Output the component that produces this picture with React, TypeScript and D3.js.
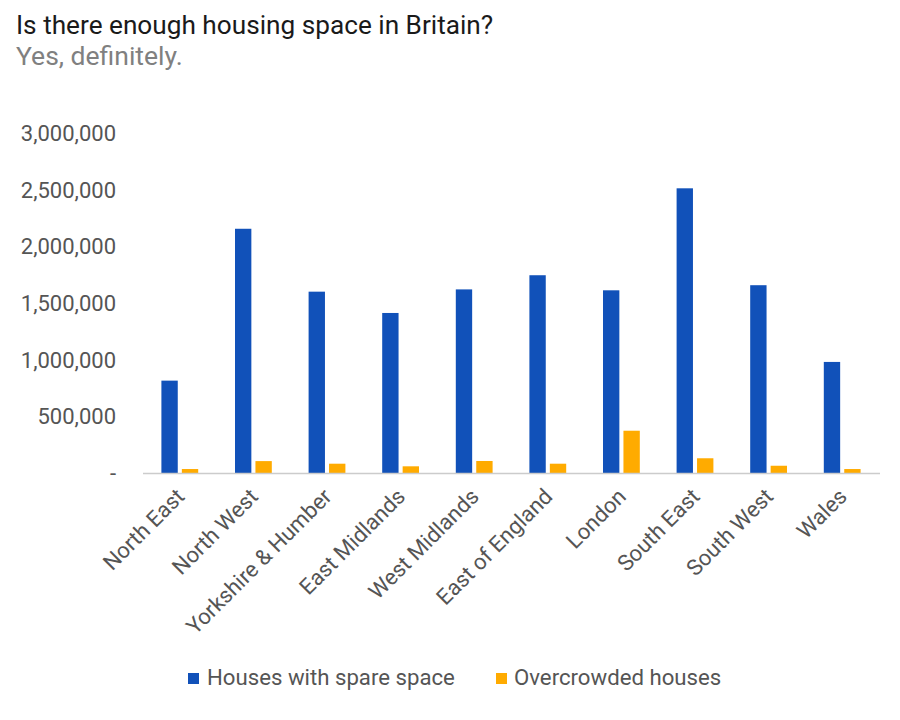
import * as React from "react";
import * as d3 from "d3";

const regions = ["North East", "North West", "Yorkshire & Humber", "East Midlands", "West Midlands", "East of England", "London", "South East", "South West", "Wales"];
const spareSpace = [815000, 2155000, 1600000, 1412000, 1620000, 1745000, 1612000, 2512000, 1657000, 980000];
const overcrowded = [35000, 105000, 82000, 59000, 106000, 82000, 373000, 130000, 64000, 35000];
const seriesNames = ["Houses with spare space", "Overcrowded houses"];
const yTicks = [0, 500000, 1000000, 1500000, 2000000, 2500000, 3000000];

const colors = ["#1151b9", "#ffab00"];
const font = "Roboto, 'Noto Sans', sans-serif";

export default function App() {
    const width = 900;
    const height = 720;
    const left = 143;
    const right = 879;
    const top = 133;
    const bottom = 473;

    const x0 = d3.scaleBand<string>().domain(regions).range([left, right]).paddingInner(0.5).paddingOuter(0.25);
    const x1 = d3.scaleBand<string>().domain(seriesNames).range([0, x0.bandwidth()]).paddingInner(0.2);
    const y = d3.scaleLinear().domain([0, 3000000]).range([bottom, top]);

    const fmt = (d: number) => d === 0 ? "-" : d3.format(",")(d);
    const values = [spareSpace, overcrowded];

    return <svg width={width} height={height} style={{ position: "absolute", left: 0, top: 0, background: "#fff" }} fontFamily={font}>
        <text x={16} y={34} fontSize={26.2} fill="#1a1a1a">Is there enough housing space in Britain?</text>
        <text x={16} y={65} fontSize={26.5} fill="#808080">Yes, definitely.</text>

        {yTicks.map(t => <text key={t} x={116} y={y(t)} dy="0.36em" textAnchor="end" fontSize={22} fill="#555">{fmt(t)}</text>)}

        {regions.map((r, i) => <g key={r} transform={`translate(${x0(r)},0)`}>
            {seriesNames.map((s, j) => <rect key={s}
                x={x1(s)}
                y={y(values[j][i])}
                width={x1.bandwidth()}
                height={bottom - y(values[j][i])}
                fill={colors[j]} />)}
        </g>)}

        <line x1={left} x2={right + 1} y1={bottom + 0.5} y2={bottom + 0.5} stroke="#cccccc" strokeWidth={1.5} />

        {regions.map(r => {
            const cx = (x0(r) || 0) + x0.bandwidth() / 2;
            return <text key={r} transform={`translate(${cx + 6},${bottom + 25}) rotate(-45)`} textAnchor="end" fontSize={22} fill="#555">{r}</text>;
        })}

        <g transform="translate(188,673)">
            <rect x={0} y={0} width={11} height={11} fill={colors[0]} />
            <text x={19} y={12} fontSize={22.2} fill="#555">{seriesNames[0]}</text>
            <rect x={308} y={0} width={11} height={11} fill={colors[1]} />
            <text x={326} y={12} fontSize={22.2} fill="#555">{seriesNames[1]}</text>
        </g>
    </svg>;
}
